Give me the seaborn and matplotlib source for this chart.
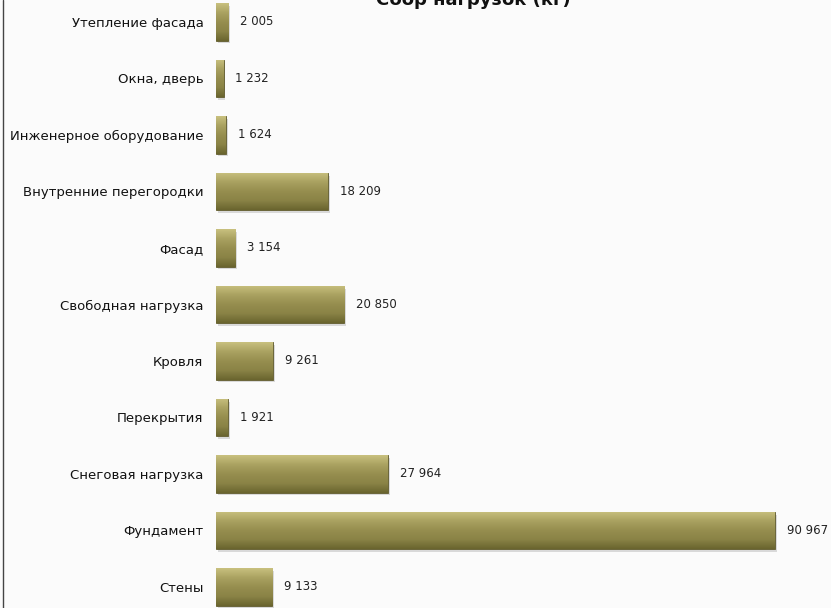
import matplotlib
matplotlib.use("Agg")
import matplotlib.pyplot as plt
import seaborn as sns
import numpy as np
import pandas as pd
from matplotlib.colors import LinearSegmentedColormap

categories = ["Утепление фасада", "Окна, дверь", "Инженерное оборудование",
              "Внутренние перегородки", "Фасад", "Свободная нагрузка", "Кровля",
              "Перекрытия", "Снеговая нагрузка", "Фундамент", "Стены"]
values = [2005, 1232, 1624, 18209, 3154, 20850, 9261, 1921, 27964, 90967, 9133]
value_labels = ["2 005", "1 232", "1 624", "18 209", "3 154", "20 850", "9 261",
                "1 921", "27 964", "90 967", "9 133"]
title = "Сбор нагрузок (кг)"

sns.set_style("white")
plt.rcParams['font.family'] = ['DejaVu Sans']

df = pd.DataFrame({"cat": categories, "val": values})

fig = plt.figure(figsize=(8.31, 6.08), dpi=100)
fig.patch.set_facecolor("#fbfbfb")
ax = fig.add_axes([216/831, 0, 615/831, 1])
ax.set_facecolor("#fbfbfb")

sns.barplot(data=df, x="val", y="cat", orient="h", color="#958d4e",
            width=0.66, ax=ax, saturation=1)

cmap = LinearSegmentedColormap.from_list(
    "olive", ["#c8c07e", "#aaa261", "#968e4f", "#8a8346", "#6a652f"])
grad = np.linspace(0, 1, 64).reshape(-1, 1)
for p in ax.patches:
    x0, y0 = p.get_x(), p.get_y()
    w, h = p.get_width(), p.get_height()
    ax.add_patch(plt.Rectangle((x0 + 300, y0 + 0.05), w, h, color="#00000022",
                               zorder=1, lw=0))
    im = ax.imshow(grad, cmap=cmap, aspect="auto",
                   extent=(x0, x0 + w, y0 + h, y0), zorder=3,
                   interpolation="bilinear")
    im.set_clip_path(p)
    p.set_edgecolor("#5e592b")
    p.set_linewidth(0.6)
    p.set_zorder(2)
ax.set_xlim(0, 100080)
ax.set_ylim(10.372, -0.389)

for i, (v, lab) in enumerate(zip(values, value_labels)):
    ax.annotate(lab, xy=(v, i), xytext=(8.5, 0), textcoords="offset points",
                va="center", ha="left", fontsize=8.5, color="#222222")

ax.set_xlabel("")
ax.set_ylabel("")
ax.set_xticks([])
ax.tick_params(axis="y", length=0, pad=9, labelsize=9.5, labelcolor="#111111")
for s in ax.spines.values():
    s.set_visible(False)

fig.text(473/831, 1 - 5/608, title, ha="center", va="baseline",
         fontsize=13, fontweight="bold", color="#111111")
fig.add_artist(plt.Line2D([3/831, 3/831], [0, 1], color="#444444", lw=1,
                          transform=fig.transFigure))

fig.savefig("out.png", dpi=100, facecolor=fig.get_facecolor())
